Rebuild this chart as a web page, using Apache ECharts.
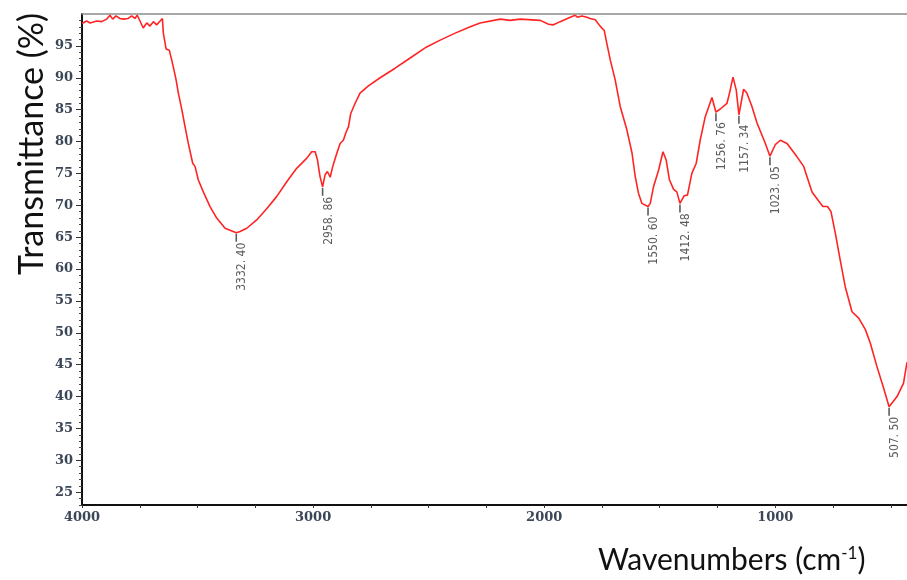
<!DOCTYPE html>
<html>
<head>
<meta charset="utf-8">
<script src="https://cdn.jsdelivr.net/npm/echarts/dist/echarts.min.js"></script>
<style>
html,body{margin:0;padding:0;background:#fff;}
#chart{width:907px;height:580px;}
</style>
</head>
<body>
<div id="chart"></div>
<script>
// ---- data ----
const wavenumbers = [4000,3980,3965,3936,3915,3893,3879,3867,3853,3836,3821,3800,3785,3771,3761,3749,3735,3720,3706,3691,3677,3662,3652,3648,3636,3622,3612,3605,3593,3583,3568,3554,3540,3521,3511,3497,3475,3446,3417,3381,3332.4,3316,3287,3244,3200,3157,3114,3071,3027,3006,2991,2981,2970,2958.86,2948,2938,2926,2915,2897,2883,2869,2857,2847,2837,2818,2797,2762,2710,2645,2580,2515,2450,2385,2320,2277,2190,2147,2104,2017,1981,1960,1931,1887,1866,1856,1837,1815,1801,1779,1758,1740,1729,1714,1693,1671,1642,1620,1606,1592,1577,1550.6,1541,1527,1505,1486,1472,1458,1440,1426,1412.48,1394,1380,1361,1342,1325,1303,1274,1256.76,1238,1209,1198,1183,1169,1157.34,1137,1123,1101,1079,1043,1023.05,1000,978,949,906,877,841,813,794,774,759,740,719,697,668,639,610,589,560,531,507.5,473,445,430];
const transmittance = [98.5,98.9,98.6,98.9,98.8,99.2,99.8,99.2,99.7,99.3,99.2,99.3,99.7,99.3,99.8,98.9,97.8,98.6,98.1,98.8,98.3,98.9,99.3,97.0,94.5,94.3,92.8,91.7,89.7,87.6,85.0,82.3,79.7,76.6,76.1,74.0,72.1,69.8,68.0,66.4,65.7,65.9,66.4,67.7,69.5,71.4,73.7,75.8,77.4,78.4,78.4,77.1,74.5,72.9,74.8,75.3,74.4,76.1,78.2,79.7,80.2,81.5,82.3,84.4,86.0,87.6,88.7,90.0,91.5,93.1,94.7,95.9,97.0,98.0,98.6,99.2,99.0,99.2,99.0,98.4,98.3,98.8,99.5,99.8,99.5,99.7,99.5,99.3,99.1,98.1,97.4,95.4,92.8,89.7,85.5,81.8,78.2,74.5,71.9,70.3,69.8,70.3,72.9,75.5,78.4,77.1,74.0,72.5,72.1,70.3,71.5,71.6,75.0,76.6,80.2,83.9,86.9,84.6,85.1,86.0,87.6,90.1,88.1,84.2,88.2,87.6,85.5,82.9,79.7,77.7,79.5,80.2,79.7,77.6,76.1,72.1,70.7,69.8,69.8,69.0,65.6,61.4,57.2,53.3,52.3,50.5,48.4,44.7,41.3,38.4,40.0,42.1,45.4];

const peakWavenumbers = [3332.40, 2958.86, 1550.60, 1412.48, 1256.76, 1157.34, 1023.05, 507.50];
const peakTransmittance = [65.7, 72.9, 69.8, 70.3, 84.6, 84.2, 77.7, 38.4];
const peakLabels = ['3332. 40', '2958. 86', '1550. 60', '1412. 48', '1256. 76', '1157. 34', '1023. 05', '507. 50'];

const xTickLabels = [4000, 3000, 2000, 1000];
const xMinorTicks = [4000,3750,3500,3250,3000,2750,2500,2250,2000,1750,1500,1250,1000,750,500];
const yTickLabels = [25,30,35,40,45,50,55,60,65,70,75,80,85,90,95];
const yMinorTicks = [23,24,25,26,27,28,29,30,31,32,33,34,35,36,37,38,39,40,41,42,43,44,45,46,47,48,49,50,51,52,53,54,55,56,57,58,59,60,61,62,63,64,65,66,67,68,69,70,71,72,73,74,75,76,77,78,79,80,81,82,83,84,85,86,87,88,89,90,91,92,93,94,95,96,97,98,99];

// ---- chart ----
const chart = echarts.init(document.getElementById('chart'), null, {renderer: 'canvas'});
const spectrum = wavenumbers.map((w, i) => [w, transmittance[i]]);
const peaks = peakWavenumbers.map((w, i) => [w, peakTransmittance[i]]);
const tickFont = {fontFamily: 'DejaVu Serif', fontWeight: 'bold', fontSize: 13, color: '#3b4657'};

chart.setOption({
  animation: false,
  backgroundColor: '#ffffff',
  grid: {left: 82, right: 0, top: 14, bottom: 75, containLabel: false},
  xAxis: [{
    type: 'value', min: 430, max: 4000, inverse: true,
    axisLine: {show: true, onZero: false, lineStyle: {color: '#111', width: 2}},
    axisTick: {show: true, length: 3, customValues: xMinorTicks, lineStyle: {color: '#333', width: 1}},
    axisLabel: Object.assign({show: true, margin: 6, customValues: xTickLabels,
      formatter: v => String(v)}, tickFont),
    splitLine: {show: false}
  }, {
    type: 'value', min: 430, max: 4000, inverse: true, position: 'top',
    axisLine: {show: true, onZero: false, lineStyle: {color: '#8c8c8c', width: 1.5}},
    axisTick: {show: false}, axisLabel: {show: false}, splitLine: {show: false}
  }],
  yAxis: [{
    type: 'value', min: 23, max: 100, position: 'left',
    axisLine: {show: true, onZero: false, lineStyle: {color: '#111', width: 2}},
    axisTick: {show: true, length: 3, customValues: yMinorTicks, lineStyle: {color: '#444', width: 1}},
    axisLabel: Object.assign({show: true, margin: 9, customValues: yTickLabels}, tickFont),
    splitLine: {show: false}
  }, {
    type: 'value', min: 23, max: 100, position: 'left', offset: 0,
    axisLine: {show: false, onZero: false},
    axisTick: {show: true, length: 6, customValues: yTickLabels, lineStyle: {color: '#333', width: 1}},
    axisLabel: {show: false}, splitLine: {show: false}
  }],
  series: [{
    name: 'spectrum', type: 'line', data: spectrum,
    showSymbol: false, symbol: 'none', smooth: false,
    lineStyle: {color: '#ff2424', width: 1.6}, z: 3
  }, {
    name: 'peaks', type: 'scatter', data: peaks,
    symbol: 'rect', symbolSize: [1.6, 8], symbolOffset: [0, 5],
    itemStyle: {color: '#333333'}, z: 4,
    label: {
      show: true, position: 'bottom', distance: 1, rotate: 90,
      align: 'right', verticalAlign: 'top',
      fontFamily: "'Liberation Sans Narrow','DejaVu Sans Condensed','Roboto Condensed','Liberation Sans',sans-serif",
      fontSize: 12, color: '#333333',
      formatter: p => peakLabels[p.dataIndex]
    }
  }],
  graphic: [{
    type: 'text', x: 32, y: 144, rotation: Math.PI / 2,
    style: {text: 'Transmittance (%)', fontFamily: 'Lato', fontSize: 34, fill: '#111',
      textAlign: 'center', textVerticalAlign: 'middle'}
  }, {
    type: 'text', x: 598, y: 560,
    style: {
      text: 'Wavenumbers (cm{sup|-1})', fontFamily: 'Lato', fontSize: 30, fill: '#111',
      textAlign: 'left', textVerticalAlign: 'middle',
      rich: {sup: {fontFamily: 'Lato', fontSize: 17, fill: '#111', verticalAlign: 'top', padding: [0, 0, 12, 0]}}
    }
  }]
});
</script>
</body>
</html>
